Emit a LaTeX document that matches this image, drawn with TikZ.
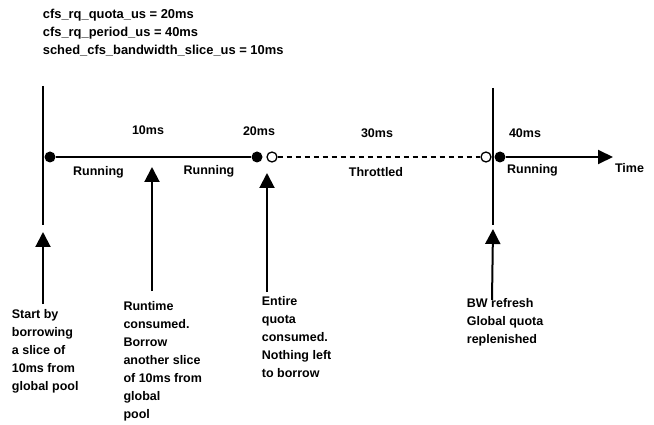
\documentclass[tikz,border=0pt]{standalone}
\usepackage{fontspec}
\setmainfont{Liberation Sans}
\usetikzlibrary{arrows.meta}

\begin{document}
\begin{tikzpicture}[x=1pt,y=-1pt,
    font=\fontsize{12.5}{18}\selectfont\bfseries,
    dot/.style={circle,fill,inner sep=0pt,minimum size=11pt},
    hole/.style={circle,draw,fill=white,line width=1.3pt,inner sep=0pt,minimum size=10pt},
    lbl/.style={anchor=base,inner sep=0pt},
    note/.style={anchor=north west,align=left,inner sep=0pt},
    up/.style={line width=2pt,-{Triangle[length=15pt,width=15pt]}}]
    \useasboundingbox (0,0) rectangle (654,425);
    % Def coords
    \coordinate (A) at (43,86);
    \coordinate (B) at (43,225);
    \coordinate (C) at (493,88);
    \coordinate (D) at (493,225);
    \coordinate (T) at (613,157);
    \coordinate (P0) at (43,304);  \coordinate (Q0) at (43,232);
    \coordinate (P1) at (152,291); \coordinate (Q1) at (152,167);
    \coordinate (P2) at (267,292); \coordinate (Q2) at (267,173);
    \coordinate (P3) at (492,300); \coordinate (Q3) at (493,229);
    % Points on time axis
    \node[dot] (d1) at (50,157) {};
    \node[dot] (d2) at (257,157) {};
    \node[hole] (o1) at (272,157) {};
    \node[hole] (o2) at (486,157) {};
    \node[dot] (d3) at (500,157) {};
    % Draw lines
    \draw[line width=2pt] (A) -- (B);
    \draw[line width=2pt] (C) -- (D);
    \draw[line width=2pt] (d1) -- (d2);
    \draw[line width=2pt, dash pattern=on 5pt off 4pt] (o1) -- (o2);
    \draw[line width=2pt,-{Triangle[length=15pt,width=14pt]}] (d3) -- (T);
    % Draw arrows
    \draw[up] (P0) -- (Q0);
    \draw[up] (P1) -- (Q1);
    \draw[up] (P2) -- (Q2);
    \draw[up] (P3) -- (Q3);
    % Label
    \node[note,font=\fontsize{12.9}{18}\selectfont\bfseries] (hdr) at (42.7,8.5) {cfs\_rq\_quota\_us = 20ms\\cfs\_rq\_period\_us = 40ms\\sched\_cfs\_bandwidth\_slice\_us = 10ms};
    \node[lbl] (m10) at (148,135) {10ms};
    \node[lbl] (m20) at (259,136) {20ms};
    \node[lbl] (m30) at (377,138) {30ms};
    \node[lbl] (m40) at (525,138) {40ms};
    \node[lbl] (run1) at (98.5,176) {Running};
    \node[lbl] (run2) at (209,175) {Running};
    \node[lbl] (thr) at (376,177) {Throttled};
    \node[lbl] (run3) at (532.5,174) {Running};
    \node[lbl] (time) at (629.5,173) {Time};
    \node[note] (n0) at (11.7,309) {Start by\\borrowing\\a slice of\\10ms from\\global pool};
    \node[note] (n1) at (123.3,301) {Runtime\\consumed.\\Borrow\\another slice\\of 10ms from\\global\\pool};
    \node[note] (n2) at (261.7,296) {Entire\\quota\\consumed.\\Nothing left\\to borrow};
    \node[note] (n3) at (466.7,298) {BW refresh\\Global quota\\replenished};
\end{tikzpicture}
\end{document}
